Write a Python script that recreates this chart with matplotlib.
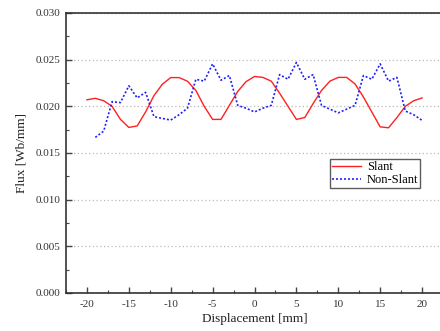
import matplotlib
matplotlib.use("Agg")
import matplotlib.pyplot as plt
from matplotlib.ticker import MultipleLocator

plt.rcParams['font.family'] = ['Liberation Serif', 'DejaVu Serif']

slant_x = list(range(-20, 21))
slant_y = [0.0207, 0.02086, 0.0206, 0.0200, 0.0186, 0.01774, 0.0179, 0.0194,
           0.02115, 0.02237, 0.02308, 0.02308, 0.02269, 0.0217, 0.0200, 0.0186,
           0.0186, 0.0201, 0.0216, 0.02265, 0.0232, 0.0231, 0.0227, 0.0214,
           0.0200, 0.0186, 0.0188, 0.0203, 0.0217, 0.0227, 0.0231, 0.0231,
           0.0224, 0.0210, 0.0194, 0.0178, 0.0177, 0.0188, 0.0200, 0.0206, 0.0209]

nonslant_x = list(range(-19, 21))
nonslant_y = [0.01667, 0.01735, 0.0205, 0.0204, 0.0222, 0.0209, 0.0215, 0.0189,
              0.0187, 0.01853, 0.0191, 0.0198, 0.0229, 0.0227, 0.02455, 0.0228,
              0.0233, 0.0201, 0.0198, 0.0194, 0.0198, 0.0201, 0.0234, 0.0229,
              0.0247, 0.0229, 0.0234, 0.0201, 0.0197, 0.0193, 0.0197, 0.0201,
              0.0233, 0.0229, 0.02455, 0.0227, 0.0231, 0.0195, 0.0191, 0.0185]

xticks = [-20, -15, -10, -5, 0, 5, 10, 15, 20]
yticks = [0.000, 0.005, 0.010, 0.015, 0.020, 0.025, 0.030]

fig = plt.figure(figsize=(4.4, 3.31), dpi=100)
ax = fig.add_axes([66/440, 1-293/331, (443-66)/440, (293-13)/331])

ax.plot(slant_x, slant_y, color='#ff2020', lw=1.0, label='Slant')
ax.plot(nonslant_x, nonslant_y, color='#2020ff', lw=1.2, ls=(0, (1.2, 1.2)), label='Non-Slant')

ax.set_xlim(-22.5, 22.5)
ax.set_ylim(0.0, 0.030)
ax.set_xticks(xticks)
ax.set_xticklabels([str(v) for v in xticks])
ax.set_yticks(yticks)
ax.set_yticklabels(['%.3f' % v for v in yticks])
ax.xaxis.set_minor_locator(MultipleLocator(2.5))
ax.yaxis.set_minor_locator(MultipleLocator(0.0025))
ax.tick_params(which='major', direction='in', length=4, width=1, colors='#444444',
               labelsize=8, labelcolor='#333333', top=False, right=False)
ax.tick_params(which='minor', direction='in', length=2, width=0.8, colors='#444444',
               top=False, right=False)
ax.tick_params(axis='x', pad=5)
ax.tick_params(axis='y', pad=4)
ax.grid(axis='y', which='major', color='#bbbbbb', ls=(0, (1, 2)), lw=0.9)
for s in ax.spines.values():
    s.set_color('#333333')
    s.set_linewidth(1.2)

ax.set_xlabel('Displacement [mm]', fontsize=9.5, color='#222222', labelpad=3)
ax.set_ylabel('Flux [Wb/mm]', fontsize=9.5, color='#222222', labelpad=6)

leg = ax.legend(loc='upper left', bbox_to_anchor=((330-66)/377, 1-(159-13)/280),
                fontsize=9, frameon=True, fancybox=False, borderpad=0.15,
                handlelength=2.3, handletextpad=0.5, labelspacing=0.1, borderaxespad=0)
leg.get_frame().set_edgecolor('#333333')
leg.get_frame().set_linewidth(1.0)

fig.savefig('out.png', dpi=100)
